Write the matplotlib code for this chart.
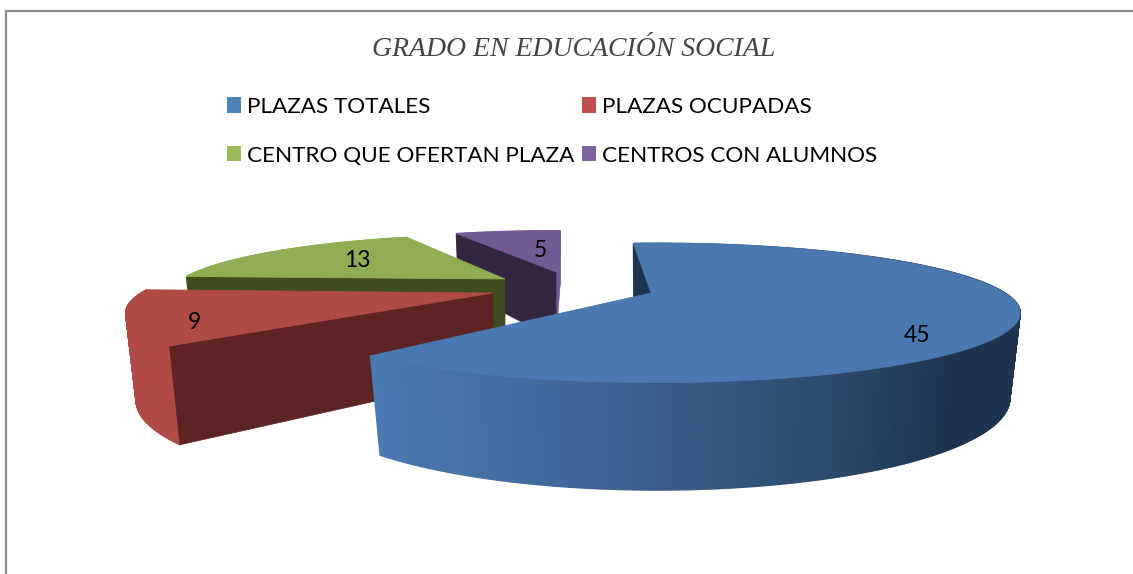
import numpy as np
import matplotlib
matplotlib.use("Agg")
import matplotlib.pyplot as plt
from matplotlib.collections import PolyCollection
from matplotlib.patches import Patch, Polygon
from matplotlib.colors import to_rgb

# ---- data ----
categories = ["PLAZAS TOTALES", "PLAZAS OCUPADAS", "CENTRO QUE OFERTAN PLAZA", "CENTROS CON ALUMNOS"]
values = [45, 9, 13, 5]
title = "GRADO EN EDUCACIÓN SOCIAL"

# ---- style ----
legend_colors = ["#4f81bd", "#c0504d", "#9bbb59", "#8064a2"]
top_colors = ["#4a78b0", "#b04a46", "#8fae53", "#745a94"]
side_colors = [None, "#b04a46", "#8fae53", "#745a94"]
cut_colors = ["#1e3550", "#5e2424", "#3f4c20", "#32273f"]
# camera per slice: apex x, apex y, width scale, depth scale, thickness, turn, rim shift
cameras = [
    dict(ax=651, ay=293, F=348, Fs=64, G=82, turn=-5.0, c=6),
    dict(ax=493, ay=293, F=352, Fs=64, G=84, turn=3.0, c=0),
    dict(ax=505, ay=279, F=323, Fs=57, G=72, turn=2.5, c=0),
    dict(ax=556, ay=272, F=309, Fs=53, G=70, turn=1.0, c=0),
]
label_place = [(0.72, 7, 28), (0.85, 8, 10), (0.55, -14, -2), (0.55, 14, 3)]
PERSP = 0.286
NARROW = 0.027
grad_x = [368, 600, 830, 950, 1020]
grad_c = ["#4a7bb5", "#3d6594", "#2c4a6e", "#1e334e", "#1e334e"]

plt.rcParams["font.family"] = ["Lato", "DejaVu Sans"]
fig = plt.figure(figsize=(11.33, 5.74), dpi=100)
ax = fig.add_axes([0, 0, 1, 1])
ax.set_xlim(0, 1133)
ax.set_ylim(574, 0)
ax.axis("off")

ax.plot([6, 6, 1133], [574, 11, 11], color="#8c8c8c", lw=1.6, solid_joinstyle="miter")


def project(cam, theta, rho=1.0, depth=0.0):
    t = np.radians(theta)
    u = rho * np.sin(t)
    v = rho * np.cos(t)
    w = 1 + PERSP * v + NARROW * depth
    x = cam["ax"] + cam["c"] * rho + cam["F"] * u / w
    y = cam["ay"] + (-cam["Fs"] * v + cam["G"] * depth) / w
    return x, y


def wall(cam, theta, color, zorder):
    pts = [project(cam, theta, 0, 0), project(cam, theta, 1, 0),
           project(cam, theta, 1, 1), project(cam, theta, 0, 1)]
    ax.add_patch(Polygon(pts, closed=True, fc=color, ec=color, lw=0.5, zorder=zorder))


def gradient(x):
    rgb = np.array([to_rgb(c) for c in grad_c])
    return tuple(np.interp(x, grad_x, rgb[:, i]) for i in range(3))


total = sum(values)
edges = np.concatenate([[0], np.cumsum(values)]) / total * 360
order = [3, 2, 1, 0]  # back to front
for i in order:
    cam = cameras[i]
    a0 = edges[i] + cam["turn"]
    a1 = edges[i + 1] + cam["turn"]
    base = 10 + (3 - i) * 10
    thetas = np.linspace(a0, a1, int(max(a1 - a0, 10) * 2))
    if i == 3:
        wall(cam, a1, side_colors[i], base)
    # outer side
    quads, cols = [], []
    for t0, t1 in zip(thetas[:-1], thetas[1:]):
        q = [project(cam, t0, 1, 0), project(cam, t1, 1, 0),
             project(cam, t1, 1, 1), project(cam, t0, 1, 1)]
        quads.append(q)
        mx = np.mean([p[0] for p in q])
        cols.append(gradient(mx) if side_colors[i] is None else to_rgb(side_colors[i]))
    ax.add_collection(PolyCollection(quads, facecolors=cols, edgecolors=cols, linewidths=1.0, zorder=base + 1))
    # opening wall
    wall(cam, a0, cut_colors[i], base + 2)
    # top face
    rim = [project(cam, t) for t in thetas]
    ax.add_patch(Polygon([project(cam, a0, 0, 0)] + rim, closed=True, fc=top_colors[i],
                         ec=top_colors[i], lw=0.5, zorder=base + 3))
    # value label
    rho, ox, oy = label_place[i]
    lx, ly = project(cam, (a0 + a1) / 2, rho)
    ax.annotate(str(values[i]), (lx, ly), xytext=(ox, -oy), textcoords="offset pixels",
                ha="center", va="center", fontsize=16.5, color="black", zorder=100)

# matplotlib fills legends column by column
legend_order = [0, 2, 1, 3]
handles = [Patch(fc=legend_colors[k], ec="none", label=categories[k]) for k in legend_order]
fig.legend(handles=handles, ncols=2, loc="upper left", bbox_to_anchor=(227 / 1133, 1 - 97 / 574),
           frameon=False, fontsize=16.2, handlelength=0.62, handleheight=0.67, handletextpad=0.27,
           columnspacing=0.35, labelspacing=1.27, borderpad=0, borderaxespad=0)

ax.text(574, 49, title, ha="center", va="center", fontsize=20, style="italic",
        family="Liberation Serif", color="#444444")

fig.savefig("out.png", dpi=100)
